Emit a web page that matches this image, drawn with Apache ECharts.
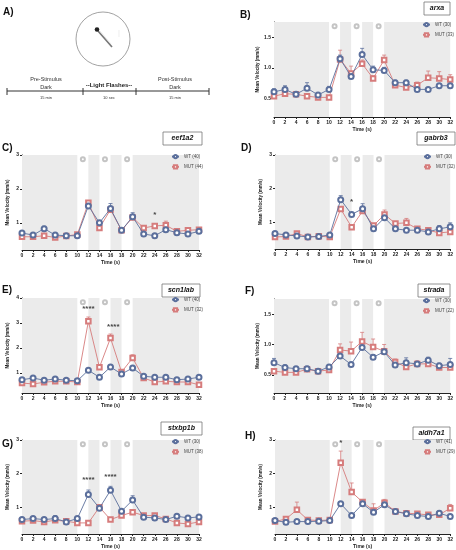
<!DOCTYPE html>
<html lang="en">
<head>
<meta charset="UTF-8">
<title>Light flash response</title>
<script src="https://cdn.jsdelivr.net/npm/echarts@6/dist/echarts.min.js"></script>
<style>
  html, body { margin: 0; padding: 0; background: #fff; }
  #chart { width: 456px; height: 550px; }
</style>
</head>
<body>
<div id="chart"></div>
<script>
// time points (s)
var times = [0, 2, 4, 6, 8, 10, 12, 14, 16, 18, 20, 22, 24, 26, 28, 30, 32];
// dark periods (grey), light flashes sit in between
var darkBands = [[0, 10], [12, 14], [16, 18], [20, 32]];
var bulbTimes = [11, 15, 19];

// B) arxa
var arxaWT = [0.61, 0.65, 0.57, 0.67, 0.56, 0.65, 1.15, 0.86, 1.22, 0.97, 0.96, 0.76, 0.76, 0.65, 0.65, 0.71, 0.71];
var arxaWTErr = [0.05, 0.06, 0.03, 0.09, 0.03, 0.05, 0.06, 0.04, 0.10, 0.06, 0.05, 0.04, 0.04, 0.03, 0.03, 0.03, 0.03];
var arxaMUT = [0.54, 0.58, 0.57, 0.54, 0.52, 0.52, 1.14, 0.91, 1.07, 0.83, 1.13, 0.72, 0.68, 0.72, 0.84, 0.83, 0.81];
var arxaMUTErr = [0.03, 0.03, 0.03, 0.03, 0.03, 0.03, 0.15, 0.12, 0.06, 0.04, 0.08, 0.04, 0.04, 0.05, 0.11, 0.11, 0.08];
var arxaSig = [];

// C) eef1a2
var eef1a2WT = [0.70, 0.64, 0.83, 0.64, 0.62, 0.62, 1.50, 1.00, 1.42, 0.78, 1.18, 0.67, 0.62, 0.80, 0.71, 0.67, 0.75];
var eef1a2WTErr = [0.04, 0.03, 0.07, 0.03, 0.03, 0.03, 0.07, 0.05, 0.15, 0.04, 0.12, 0.03, 0.03, 0.05, 0.04, 0.04, 0.04];
var eef1a2MUT = [0.59, 0.59, 0.62, 0.57, 0.61, 0.66, 1.59, 0.85, 1.39, 0.78, 1.16, 0.85, 0.91, 0.93, 0.75, 0.78, 0.80];
var eef1a2MUTErr = [0.03, 0.03, 0.03, 0.03, 0.03, 0.04, 0.06, 0.04, 0.06, 0.04, 0.05, 0.05, 0.06, 0.12, 0.05, 0.08, 0.04];
var eef1a2Sig = [[24, 1.23, '*']];

// D) gabrb3
var gabrb3WT = [0.66, 0.62, 0.59, 0.56, 0.57, 0.62, 1.67, 1.23, 1.40, 0.80, 1.13, 0.80, 0.76, 0.76, 0.71, 0.80, 0.86];
var gabrb3WTErr = [0.04, 0.03, 0.03, 0.03, 0.03, 0.04, 0.12, 0.05, 0.15, 0.04, 0.05, 0.03, 0.03, 0.03, 0.04, 0.10, 0.12];
var gabrb3MUT = [0.56, 0.57, 0.66, 0.56, 0.58, 0.56, 1.39, 0.85, 1.33, 0.90, 1.23, 0.96, 0.98, 0.80, 0.76, 0.68, 0.71];
var gabrb3MUTErr = [0.03, 0.03, 0.05, 0.03, 0.03, 0.03, 0.06, 0.04, 0.05, 0.04, 0.13, 0.05, 0.13, 0.05, 0.04, 0.04, 0.04];
var gabrb3Sig = [[14, 1.62, '*']];

// E) scn1lab
var scn1labWT = [0.73, 0.80, 0.71, 0.76, 0.71, 0.69, 1.11, 0.83, 1.24, 0.96, 1.20, 0.87, 0.83, 0.83, 0.73, 0.76, 0.83];
var scn1labWTErr = [0.05, 0.05, 0.04, 0.04, 0.04, 0.04, 0.06, 0.04, 0.07, 0.04, 0.06, 0.04, 0.04, 0.04, 0.04, 0.04, 0.05];
var scn1labMUT = [0.60, 0.56, 0.63, 0.67, 0.67, 0.64, 3.07, 1.23, 2.40, 1.04, 1.60, 0.80, 0.64, 0.67, 0.64, 0.64, 0.53];
var scn1labMUTErr = [0.04, 0.04, 0.04, 0.04, 0.04, 0.04, 0.17, 0.06, 0.16, 0.05, 0.13, 0.04, 0.04, 0.04, 0.04, 0.04, 0.04];
var scn1labSig = [[12, 3.58, '****'], [16.5, 2.85, '****']];

// F) strada
var stradaWT = [0.70, 0.62, 0.60, 0.60, 0.56, 0.63, 0.81, 0.67, 0.95, 0.79, 0.88, 0.66, 0.70, 0.68, 0.74, 0.65, 0.67];
var stradaWTErr = [0.07, 0.04, 0.03, 0.04, 0.02, 0.04, 0.05, 0.03, 0.07, 0.04, 0.04, 0.03, 0.08, 0.03, 0.05, 0.04, 0.10];
var stradaMUT = [0.56, 0.54, 0.54, 0.59, 0.56, 0.58, 0.91, 0.89, 1.05, 0.96, 0.89, 0.71, 0.63, 0.68, 0.68, 0.62, 0.62];
var stradaMUTErr = [0.03, 0.03, 0.03, 0.03, 0.02, 0.03, 0.10, 0.15, 0.15, 0.13, 0.11, 0.05, 0.03, 0.05, 0.03, 0.03, 0.03];
var stradaSig = [];

// G) stxbp1b
var stxbp1bWT = [0.63, 0.66, 0.63, 0.66, 0.56, 0.66, 1.38, 0.97, 1.50, 0.88, 1.21, 0.70, 0.68, 0.63, 0.73, 0.68, 0.71];
var stxbp1bWTErr = [0.04, 0.05, 0.03, 0.09, 0.03, 0.04, 0.13, 0.04, 0.12, 0.04, 0.13, 0.03, 0.03, 0.03, 0.05, 0.03, 0.04];
var stxbp1bMUT = [0.58, 0.60, 0.56, 0.61, 0.58, 0.53, 0.53, 1.00, 0.63, 0.75, 0.85, 0.75, 0.75, 0.65, 0.53, 0.50, 0.56];
var stxbp1bMUTErr = [0.03, 0.03, 0.03, 0.03, 0.03, 0.03, 0.03, 0.05, 0.03, 0.03, 0.04, 0.04, 0.05, 0.03, 0.03, 0.03, 0.03];
var stxbp1bSig = [[12, 1.8, '****'], [16, 1.9, '****']];

// H) aldh7a1
var aldh7a1WT = [0.60, 0.55, 0.57, 0.57, 0.58, 0.60, 1.10, 0.75, 1.10, 0.85, 1.07, 0.87, 0.80, 0.75, 0.72, 0.82, 0.72];
var aldh7a1WTErr = [0.04, 0.03, 0.03, 0.03, 0.03, 0.03, 0.05, 0.03, 0.05, 0.04, 0.04, 0.04, 0.04, 0.04, 0.03, 0.07, 0.04];
var aldh7a1MUT = [0.57, 0.65, 0.92, 0.62, 0.60, 0.62, 2.32, 1.45, 1.15, 0.90, 1.13, 0.87, 0.82, 0.80, 0.77, 0.77, 0.97];
var aldh7a1MUTErr = [0.03, 0.04, 0.23, 0.03, 0.03, 0.03, 0.35, 0.27, 0.05, 0.20, 0.10, 0.04, 0.04, 0.05, 0.04, 0.05, 0.11];
var aldh7a1Sig = [[12, 2.93, '*']];

var smallTicks = [0.5, 1.0, 1.5];
var ticks3 = [1, 2, 3];
var ticks4 = [1, 2, 3, 4];

var WT_COLOR = '#5b6f9c';
var MUT_COLOR = '#d67c7c';
var BAND = '#ebebeb';
var FONT = 'Liberation Sans, Arial, sans-serif';

// layout of each panel
var panels = [
    { letter: 'B)', gene: 'arxa', wt: arxaWT, wtErr: arxaWTErr, mut: arxaMUT, mutErr: arxaMUTErr, sig: arxaSig,
      nWT: 30, nMUT: 33, yMin: 0.2, yMax: 1.75, yTicks: smallTicks, dec: 1,
      grid: [274, 22, 177, 95], legend: [422, 22], box: [424, 2, 26, 13], lab: [240, 15] },
    { letter: 'C)', gene: 'eef1a2', wt: eef1a2WT, wtErr: eef1a2WTErr, mut: eef1a2MUT, mutErr: eef1a2MUTErr, sig: eef1a2Sig,
      nWT: 40, nMUT: 44, yMin: 0.2, yMax: 3, yTicks: ticks3, dec: 0,
      grid: [22, 155, 177, 95], legend: [171, 154], box: [163, 132, 39, 13], lab: [2, 148] },
    { letter: 'D)', gene: 'gabrb3', wt: gabrb3WT, wtErr: gabrb3WTErr, mut: gabrb3MUT, mutErr: gabrb3MUTErr, sig: gabrb3Sig,
      nWT: 30, nMUT: 32, yMin: 0.2, yMax: 3, yTicks: ticks3, dec: 0,
      grid: [275, 155, 176, 94], legend: [423, 154], box: [417, 132, 38, 13], lab: [241, 148] },
    { letter: 'E)', gene: 'scn1lab', wt: scn1labWT, wtErr: scn1labWTErr, mut: scn1labMUT, mutErr: scn1labMUTErr, sig: scn1labSig,
      nWT: 40, nMUT: 32, yMin: 0.2, yMax: 4, yTicks: ticks4, dec: 0,
      grid: [22, 298, 177, 95], legend: [171, 297], box: [162, 284, 38, 13], lab: [2, 290] },
    { letter: 'F)', gene: 'strada', wt: stradaWT, wtErr: stradaWTErr, mut: stradaMUT, mutErr: stradaMUTErr, sig: stradaSig,
      nWT: 30, nMUT: 22, yMin: 0.2, yMax: 1.75, yTicks: smallTicks, dec: 1,
      grid: [274, 299, 177, 94], legend: [422, 298], box: [418, 284, 32, 13], lab: [245, 291] },
    { letter: 'G)', gene: 'stxbp1b', wt: stxbp1bWT, wtErr: stxbp1bWTErr, mut: stxbp1bMUT, mutErr: stxbp1bMUTErr, sig: stxbp1bSig,
      nWT: 30, nMUT: 38, yMin: 0.2, yMax: 3, yTicks: ticks3, dec: 0,
      grid: [22, 440, 177, 95], legend: [171, 439], box: [161, 422, 41, 13], lab: [2, 444] },
    { letter: 'H)', gene: 'aldh7a1', wt: aldh7a1WT, wtErr: aldh7a1WTErr, mut: aldh7a1MUT, mutErr: aldh7a1MUTErr, sig: aldh7a1Sig,
      nWT: 41, nMUT: 29, yMin: 0.2, yMax: 3, yTicks: ticks3, dec: 0,
      grid: [275, 440, 177, 95], legend: [423, 439], box: [413, 427, 37, 13], lab: [245, 436] }
];

function errBar(params, api) {
    var x = api.value(0);
    var p0 = api.coord([x, api.value(1)]);
    var p1 = api.coord([x, api.value(2)]);
    var st = { stroke: api.visual('color'), lineWidth: 0.8 };
    return {
        type: 'group',
        children: [
            { type: 'line', shape: { x1: p0[0], y1: p0[1], x2: p1[0], y2: p1[1] }, style: st },
            { type: 'line', shape: { x1: p1[0] - 2, y1: p1[1], x2: p1[0] + 2, y2: p1[1] }, style: st }
        ]
    };
}

function withErr(vals, errs) {
    return times.map(function (t, i) { return [t, vals[i], vals[i] + errs[i]]; });
}
function pairs(vals) {
    return times.map(function (t, i) { return [t, vals[i]]; });
}

var grids = [], xAxes = [], yAxes = [], series = [], legends = [], graphics = [];

panels.forEach(function (p, k) {
    var wtName = 'WT (' + p.nWT + ')';
    var mutName = 'MUT (' + p.nMUT + ')';
    grids.push({ left: p.grid[0], top: p.grid[1], width: p.grid[2], height: p.grid[3] });
    xAxes.push({
        gridIndex: k, type: 'value', min: 0, max: 32, interval: 2,
        name: 'Time (s)', nameLocation: 'middle', nameGap: 10,
        nameTextStyle: { fontSize: 5, fontWeight: 'bold', color: '#222', fontFamily: FONT },
        axisLine: { lineStyle: { color: '#222', width: 1 } },
        axisTick: { length: 2, lineStyle: { color: '#222' } },
        axisLabel: { fontSize: 5, fontWeight: 'bold', color: '#222', margin: 3, fontFamily: FONT },
        splitLine: { show: false }
    });
    yAxes.push({
        gridIndex: k, type: 'value', min: p.yMin, max: p.yMax,
        name: 'Mean Velocity (mm/s)', nameLocation: 'middle', nameGap: 12,
        nameTextStyle: { fontSize: 4.5, fontWeight: 'bold', color: '#222', fontFamily: FONT },
        axisLine: { show: true, lineStyle: { color: '#222', width: 1 } },
        axisTick: { show: true, length: 2, customValues: p.yTicks, lineStyle: { color: '#222' } },
        axisLabel: {
            fontSize: 5, fontWeight: 'bold', color: '#222', margin: 3, fontFamily: FONT,
            customValues: p.yTicks,
            formatter: function (v) { return v.toFixed(p.dec); }
        },
        splitLine: { show: false }
    });

    // grey dark periods
    series.push({
        type: 'line', xAxisIndex: k, yAxisIndex: k, data: [], silent: true, z: 0,
        markArea: {
            silent: true,
            itemStyle: { color: BAND },
            data: darkBands.map(function (b) { return [{ xAxis: b[0] }, { xAxis: b[1] }]; })
        }
    });
    // light bulbs
    series.push({
        type: 'scatter', xAxisIndex: k, yAxisIndex: k, silent: true, z: 1,
        symbol: 'emptyCircle', symbolSize: 4,
        itemStyle: { color: '#b5b5b5', borderWidth: 0.6 },
        data: bulbTimes.map(function (t) { return [t, p.yMax - (p.yMax - p.yMin) * 0.045]; })
    });
    // error bars
    series.push({
        type: 'custom', name: 'errMUT' + k, xAxisIndex: k, yAxisIndex: k, z: 2, silent: true,
        itemStyle: { color: MUT_COLOR }, renderItem: errBar, encode: { x: 0, y: [1, 2] },
        data: withErr(p.mut, p.mutErr)
    });
    series.push({
        type: 'custom', name: 'errWT' + k, xAxisIndex: k, yAxisIndex: k, z: 2, silent: true,
        itemStyle: { color: WT_COLOR }, renderItem: errBar, encode: { x: 0, y: [1, 2] },
        data: withErr(p.wt, p.wtErr)
    });
    series.push({
        type: 'line', name: mutName, xAxisIndex: k, yAxisIndex: k, z: 3,
        symbol: 'emptyRect', symbolSize: 4.5,
        lineStyle: { color: MUT_COLOR, width: 0.9 },
        itemStyle: { color: MUT_COLOR, borderWidth: 0.8 },
        data: pairs(p.mut)
    });
    series.push({
        type: 'line', name: wtName, xAxisIndex: k, yAxisIndex: k, z: 4,
        symbol: 'emptyCircle', symbolSize: 5,
        lineStyle: { color: WT_COLOR, width: 0.9 },
        itemStyle: { color: WT_COLOR, borderWidth: 0.8 },
        data: pairs(p.wt)
    });
    // significance stars
    series.push({
        type: 'scatter', xAxisIndex: k, yAxisIndex: k, z: 5, silent: true,
        symbolSize: 0,
        label: {
            show: true, position: 'inside', fontSize: 8, fontWeight: 'bold', color: '#111',
            fontFamily: FONT,
            formatter: function (d) { return d.data[2]; }
        },
        data: p.sig
    });

    legends.push({
        left: p.legend[0], top: p.legend[1], orient: 'vertical', padding: 0,
        itemWidth: 7, itemHeight: 4, itemGap: 5, selectedMode: false,
        textStyle: { fontSize: 4.5, color: '#444', fontFamily: FONT },
        data: [wtName, mutName]
    });

    graphics.push({
        type: 'rect', shape: { x: p.box[0], y: p.box[1], width: p.box[2], height: p.box[3] },
        style: { fill: '#fff', stroke: '#777', lineWidth: 0.8 }
    });
    graphics.push({
        type: 'text', x: p.box[0] + p.box[2] / 2, y: p.box[1] + p.box[3] / 2,
        style: {
            text: p.gene, font: 'italic bold 7px ' + FONT, fill: '#111',
            textAlign: 'center', textVerticalAlign: 'middle'
        }
    });
    graphics.push({
        type: 'text', x: p.lab[0], y: p.lab[1],
        style: { text: p.letter, font: 'bold 10px ' + FONT, fill: '#111', textVerticalAlign: 'middle' }
    });
});

// panel A: protocol sketch
var smallTxt = '5.5px ' + FONT;
graphics.push(
    { type: 'text', x: 3, y: 12, style: { text: 'A)', font: 'bold 10px ' + FONT, fill: '#111', textVerticalAlign: 'middle' } },
    { type: 'circle', shape: { cx: 103, cy: 39, r: 27 }, style: { fill: 'none', stroke: '#8a8a8a', lineWidth: 0.8 } },
    { type: 'line', shape: { x1: 98, y1: 31, x2: 112, y2: 47 }, style: { stroke: '#777', lineWidth: 1.6 } },
    { type: 'line', shape: { x1: 100, y1: 31, x2: 111, y2: 44 }, style: { stroke: '#ddd', lineWidth: 0.6 } },
    { type: 'circle', shape: { cx: 97, cy: 29.5, r: 2.3 }, style: { fill: '#222' } },
    { type: 'line', shape: { x1: 119, y1: 30, x2: 119, y2: 37 }, style: { stroke: '#e2e2e2', lineWidth: 0.6 } },
    { type: 'line', shape: { x1: 7, y1: 91, x2: 209, y2: 91 }, style: { stroke: '#333', lineWidth: 1 } },
    { type: 'line', shape: { x1: 7, y1: 88, x2: 7, y2: 95 }, style: { stroke: '#333', lineWidth: 1 } },
    { type: 'line', shape: { x1: 83, y1: 88, x2: 83, y2: 95 }, style: { stroke: '#333', lineWidth: 1 } },
    { type: 'line', shape: { x1: 136, y1: 88, x2: 136, y2: 95 }, style: { stroke: '#333', lineWidth: 1 } },
    { type: 'line', shape: { x1: 209, y1: 88, x2: 209, y2: 95 }, style: { stroke: '#333', lineWidth: 1 } },
    { type: 'text', x: 46, y: 79, style: { text: 'Pre-Stimulus', font: smallTxt, fill: '#333', textAlign: 'center', textVerticalAlign: 'middle' } },
    { type: 'text', x: 46, y: 87, style: { text: 'Dark', font: smallTxt, fill: '#333', textAlign: 'center', textVerticalAlign: 'middle' } },
    { type: 'text', x: 109, y: 85, style: { text: '--Light Flashes--', font: 'bold 6px ' + FONT, fill: '#222', textAlign: 'center', textVerticalAlign: 'middle' } },
    { type: 'text', x: 175, y: 79, style: { text: 'Post-Stimulus', font: smallTxt, fill: '#333', textAlign: 'center', textVerticalAlign: 'middle' } },
    { type: 'text', x: 175, y: 87, style: { text: 'Dark', font: smallTxt, fill: '#333', textAlign: 'center', textVerticalAlign: 'middle' } },
    { type: 'text', x: 46, y: 98, style: { text: '15 min', font: '4px ' + FONT, fill: '#333', textAlign: 'center', textVerticalAlign: 'middle' } },
    { type: 'text', x: 109, y: 98, style: { text: '10 sec', font: '4px ' + FONT, fill: '#333', textAlign: 'center', textVerticalAlign: 'middle' } },
    { type: 'text', x: 175, y: 98, style: { text: '15 min', font: '4px ' + FONT, fill: '#333', textAlign: 'center', textVerticalAlign: 'middle' } }
);

var myChart = echarts.init(document.getElementById('chart'));
myChart.setOption({
    backgroundColor: '#fff',
    animation: false,
    textStyle: { fontFamily: FONT },
    grid: grids,
    xAxis: xAxes,
    yAxis: yAxes,
    legend: legends,
    series: series,
    graphic: graphics
});
</script>
</body>
</html>
